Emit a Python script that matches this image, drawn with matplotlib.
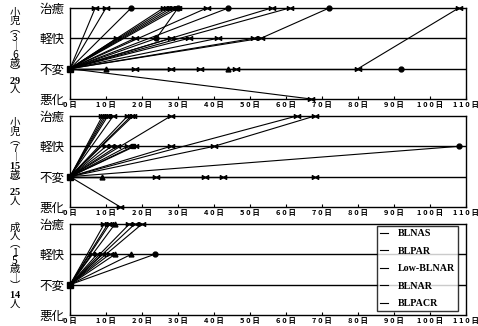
import matplotlib
matplotlib.use('Agg')
import matplotlib.pyplot as plt
from matplotlib.path import Path
from matplotlib.lines import Line2D

plt.rcParams['font.family'] = ['Noto Sans CJK JP', 'DejaVu Sans']
plt.rcParams['mathtext.fontset'] = 'custom'
plt.rcParams['mathtext.bf'] = 'Liberation Serif:bold'

level_names = ['悪化', '不変', '軽快', '治癒']
day_ticks = list(range(0, 111, 10))
day_labels = [' '.join(str(d)) + ' 日' for d in day_ticks]
strains = ['BLNAS', 'BLPAR', 'Low-BLNAR', 'BLNAR', 'BLPACR']

# 小児(3-6歳) 29人: first judged day / level / marker
a_day = [7, 10, 17, 26, 27, 28, 29, 30, 38, 44, 56, 61,
         13, 18, 24, 28, 33, 41, 51, 53,
         10, 18, 28, 36, 44, 46, 80, 92, 67]
a_level = [3, 3, 3, 3, 3, 3, 3, 3, 3, 3, 3, 3,
           2, 2, 2, 2, 2, 2, 2, 2,
           1, 1, 1, 1, 1, 1, 1, 1, 0]
a_mark = 'bbobbbbobobb' 'bbobbbbb' '^bbb^bbo' 'b'
# later change (from -> to)
a_next_from = [24, 53, 80]
a_next_from_level = [2, 2, 1]
a_next_day = [30, 72, 108]
a_next_level = [3, 3, 3]
a_next_mark = 'bob'

# 小児(7-15歳) 25人
b_day = [9, 9.5, 10, 10.5, 12, 16, 17, 17.5, 28, 63,
         10, 11.5, 13, 16, 17.5, 18, 28, 40, 108,
         9, 24, 37.5, 42.5, 68, 14]
b_level = [3, 3, 3, 3, 3, 3, 3, 3, 3, 3,
           2, 2, 2, 2, 2, 2, 2, 2, 2,
           1, 1, 1, 1, 1, 0]
b_mark = 'bbbbbbbbbb' 'bbbbsbbbo' '^bbbb' 'b'
b_next_from = [40]
b_next_from_level = [2]
b_next_day = [68]
b_next_level = [3]
b_next_mark = 'b'

# 成人(15歳-) 14人
c_day = [9.5, 10.5, 11, 12.5, 16.5, 18, 20,
         6, 7.5, 9, 11, 12.5, 17, 23.5]
c_level = [3, 3, 3, 3, 3, 3, 3,
           2, 2, 2, 2, 2, 2, 2]
c_mark = 'bbb^bbb' 'bbbb^^o'

# vertical group titles
a_title = ['小', '児', '︵', '3', '︱', '6', '歳', '︶', r'$\mathbf{29}$', '人']
b_title = ['小', '児', '︵', '7', '︱', r'$\mathbf{15}$', '歳', '︶', r'$\mathbf{25}$', '人']
c_title = ['成', '人', '︵', '1', '5', '歳', '︱', '︶', r'$\mathbf{14}$', '人']

bowtie = Path([(-1, -0.6), (0, 0), (-1, 0.6), (-1, -0.6),
               (1, -0.6), (0, 0), (1, 0.6), (1, -0.6)],
              [Path.MOVETO, Path.LINETO, Path.LINETO, Path.CLOSEPOLY,
               Path.MOVETO, Path.LINETO, Path.LINETO, Path.CLOSEPOLY])
marker_map = {'b': (bowtie, 4.5), 'o': ('o', 3.5), '^': ('^', 3.5), 's': ('s', 3.5)}

W, H = 478, 326
fig = plt.figure(figsize=(W / 100, H / 100), dpi=100)


def make_ax(top_px, bottom_px):
    ax = fig.add_axes([70 / W, 1 - bottom_px / H, 396 / W, (bottom_px - top_px) / H])
    ax.set_xlim(0, 110)
    ax.set_ylim(0, 3)
    ax.set_yticks([0, 1, 2, 3])
    ax.set_yticklabels(level_names, fontsize=9)
    ax.set_xticks(day_ticks)
    ax.set_xticklabels(day_labels, fontsize=5.4, fontweight='bold')
    ax.tick_params(axis='y', length=0, pad=4)
    ax.tick_params(axis='x', direction='in', length=2, pad=1.5)
    for s in ax.spines.values():
        s.set_linewidth(1.0)
    ax.axhline(1, color='black', lw=1.0)
    ax.axhline(2, color='black', lw=1.0)
    return ax


def draw(ax, days, levels, marks, nf=(), nfl=(), nd=(), nl=(), nm=''):
    for d, l, m in zip(days, levels, marks):
        mk, ms = marker_map[m]
        ax.plot([0, d], [1, l], color='black', lw=0.8, clip_on=False)
        ax.plot([d], [l], marker=mk, ms=ms, color='black', clip_on=False)
    for f, fl, d, l, m in zip(nf, nfl, nd, nl, nm):
        mk, ms = marker_map[m]
        ax.plot([f, d], [fl, l], color='black', lw=0.8, clip_on=False)
        ax.plot([d], [l], marker=mk, ms=ms, color='black', clip_on=False)
    ax.plot([0], [1], marker='s', ms=4, color='black', clip_on=False)


def title(chars, y0, y1):
    # one multi-line text, written top to bottom
    fig.text(15 / W, 1 - (y0 + y1) / 2 / H, '\n'.join(chars), ha='center',
             va='center', fontsize=7.5, linespacing=0.8, multialignment='center')


ax1 = make_ax(8, 99)
draw(ax1, a_day, a_level, a_mark, a_next_from, a_next_from_level,
     a_next_day, a_next_level, a_next_mark)
ax2 = make_ax(116, 207)
draw(ax2, b_day, b_level, b_mark, b_next_from, b_next_from_level,
     b_next_day, b_next_level, b_next_mark)
ax3 = make_ax(224, 315)
draw(ax3, c_day, c_level, c_mark)

title(a_title, 10, 92)
title(b_title, 119, 205)
title(c_title, 227, 304)

handles = [Line2D([], [], color='black', lw=0.8) for _ in strains]
leg = ax3.legend(handles, strains, loc='lower right', bbox_to_anchor=(0.993, -0.015),
                 frameon=True, fancybox=False, edgecolor='black', handlelength=0.8,
                 handletextpad=1.0, labelspacing=0.85, borderpad=0.3,
                 prop={'family': 'Liberation Serif', 'weight': 'bold', 'size': 7.2})
leg.get_frame().set_linewidth(1.0)

fig.savefig('out.png', dpi=100)
